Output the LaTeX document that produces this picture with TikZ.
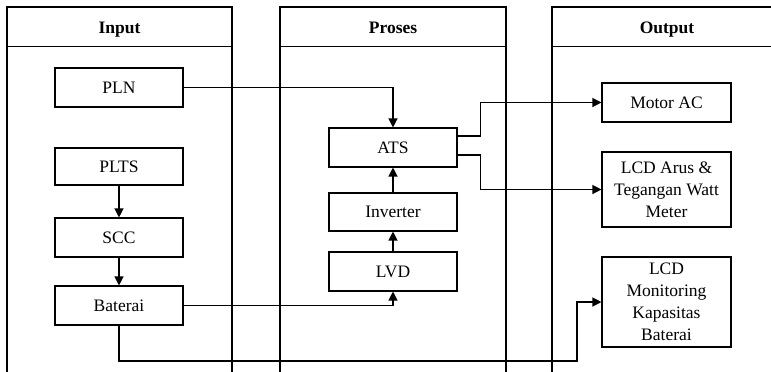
\documentclass[tikz,border=0pt]{standalone}
\usepackage{fontspec}
\setmainfont{Liberation Serif}
\newfontfamily\tnr{Liberation Serif}
\usetikzlibrary{arrows.meta,calc}
\begin{document}
\begin{tikzpicture}[x=1pt,y=-1pt,
  every node/.style={font=\tnr\fontsize{17.5}{22}\selectfont},
  box/.style={draw,line width=1.1pt,fill=white,minimum width=128pt,inner sep=0pt,align=center},
  col/.style={line width=1.2pt},
  title/.style={font=\tnr\fontsize{17.5}{22}\selectfont\bfseries,anchor=base},
  arr/.style={line width=1.2pt,-{Triangle[length=9pt,width=9pt]}},
  ln/.style={line width=1.2pt}]
\clip (0,0) rectangle (771,372);
% columns
\draw[col] (7,390) -- (7,7) -- (232,7) -- (232,390);
\draw[col] (7,46.5) -- (232,46.5);
\draw[col] (280,390) -- (280,7) -- (506,7) -- (506,390);
\draw[col] (280,46.5) -- (506,46.5);
\draw[col] (552,390) -- (552,7) -- (790,7);
\draw[col] (552,46.5) -- (790,46.5);
\node[title] (tin) at (119.5,33) {Input};
\node[title] (tpr) at (393,33) {Proses};
\node[title] (tout) at (667,33) {Output};
% nodes
\node[box,minimum height=39pt] (pln) at (119,87.5) {PLN};
\node[box,minimum height=37pt] (plts) at (119,166.5) {PLTS};
\node[box,minimum height=39pt] (scc) at (119,237.5) {SCC};
\node[box,minimum height=39pt] (bat) at (119,305.5) {Baterai};
\node[box,minimum height=39pt] (ats) at (393,147.5) {ATS};
\node[box,minimum height=38pt] (inv) at (393,212) {Inverter};
\node[box,minimum height=39pt] (lvd) at (393,271.5) {LVD};
\node[box,minimum width=129pt,minimum height=39pt] (mot) at (666.5,102.5) {Motor AC};
\node[box,minimum width=129pt,minimum height=75pt] (lcda) at (666.5,189.5) {LCD Arus \&\\Tegangan Watt\\Meter};
\node[box,minimum width=129pt,minimum height=90pt] (mon) at (666.5,302) {LCD\\Monitoring\\Kapasitas\\Baterai};
% connectors
\draw[arr] (pln.east) -| (ats.north);
\draw[arr] (plts.south) -- (scc.north);
\draw[arr] (scc.south) -- (bat.north);
\draw[arr] (bat.east) -| (lvd.south);
\draw[arr] (lvd.north) -- (inv.south);
\draw[arr] (inv.north) -- (ats.south);
\coordinate (j1) at (480.7,136);
\coordinate (j2) at (480.7,155);
\draw[arr] (ats.east |- j1) -- (j1) |- (mot.west);
\draw[arr] (ats.east |- j2) -- (j2) |- (lcda.west);
\coordinate (c1) at (577,361);
\draw[arr] (bat.south) |- (c1) |- (mon.west);
\end{tikzpicture}
\end{document}
